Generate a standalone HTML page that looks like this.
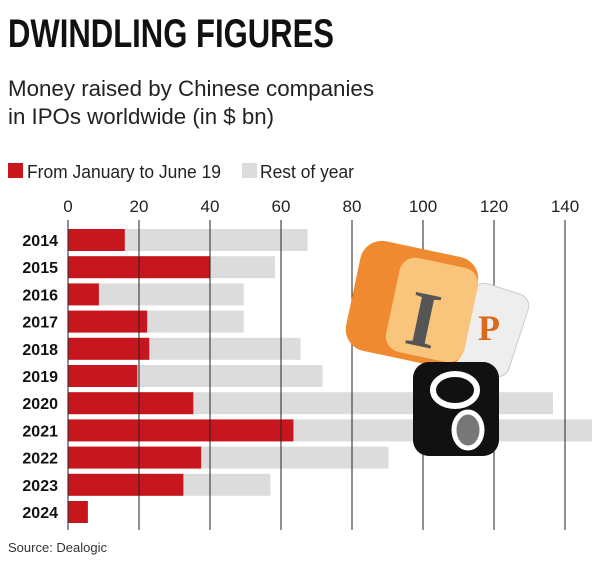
<!DOCTYPE html>
<html><head><meta charset="utf-8"><style>
body{margin:0;background:#fff;width:609px;height:570px;overflow:hidden;font-family:"Liberation Sans",sans-serif}
svg{position:absolute;left:0;top:0}
</style></head><body>
<svg width="609" height="570">
<text x="8" y="47" font-size="40" font-weight="bold" fill="#111" textLength="326" lengthAdjust="spacingAndGlyphs">DWINDLING FIGURES</text>
<text x="8" y="96" font-size="22" fill="#222" textLength="366" lengthAdjust="spacingAndGlyphs">Money raised by Chinese companies</text>
<text x="8" y="124" font-size="22" fill="#222" textLength="266" lengthAdjust="spacingAndGlyphs">in IPOs worldwide (in $ bn)</text>
<rect x="8" y="163" width="15" height="15" fill="#c8161e"/>
<text x="27" y="178" font-size="18" fill="#222" textLength="194" lengthAdjust="spacingAndGlyphs">From January to June 19</text>
<rect x="242" y="163" width="15" height="15" fill="#dcdcdc"/>
<text x="260" y="178" font-size="18" fill="#222" textLength="94" lengthAdjust="spacingAndGlyphs">Rest of year</text>
<g id="ticks"></g><g id="bars"></g><g id="grid"></g>
<g>
<rect x="462" y="287" width="58" height="86" rx="12" fill="#eeeeee" stroke="#ccc" transform="rotate(18 491 330)"/>
<text x="478" y="340" font-size="36" font-family="Liberation Serif" fill="#d86a20" font-weight="bold">P</text>
<rect x="352" y="248" width="120" height="112" rx="22" fill="#f08a30" transform="rotate(12 412 304)"/>
<rect x="392" y="262" width="80" height="96" rx="16" fill="#f9c47c" transform="rotate(12 432 310)"/>
<text x="410" y="348" font-size="80" font-family="Liberation Serif" fill="#555" font-weight="bold" transform="rotate(12 432 310)">I</text>
<rect x="413" y="362" width="86" height="94" rx="16" fill="#111"/>
<ellipse cx="455" cy="390" rx="22" ry="16" fill="none" stroke="#fff" stroke-width="6"/>
<ellipse cx="468" cy="430" rx="14" ry="18" fill="#777" stroke="#fff" stroke-width="5"/>
</g>
<text x="8" y="552" font-size="13" fill="#333">Source: Dealogic</text>
</svg>
<script>
const years=['2014','2015','2016','2017','2018','2019','2020','2021','2022','2023','2024'];
const firstHalf=[16,40,8.7,22.3,22.9,19.5,35.3,63.5,37.5,32.5,5.6];
const fullYear=[67.5,58.3,49.5,49.5,65.5,71.7,136.6,148,90.3,57,5.6];
const tickVals=[0,20,40,60,80,100,120,140];
const NS='http://www.w3.org/2000/svg';
const x=v=>68+v*3.55, yc=i=>240+i*27.2;
function mk(t,a,p){const e=document.createElementNS(NS,t);for(const k in a)e.setAttribute(k,a[k]);document.getElementById(p).appendChild(e);return e;}
tickVals.forEach(v=>{
 const t=mk('text',{x:x(v),y:212,'font-size':17,fill:'#222','text-anchor':'middle'},'ticks');t.textContent=v;
 
 
 const l=mk('line',{x1:x(v),x2:x(v),y1:220,y2:530,stroke:'#222','stroke-width':1},'grid');
 
 
});
years.forEach((yr,i)=>{
 const w=Math.min(fullYear[i],148);
 const r=mk('rect',{x:x(0),y:yc(i)-11,width:Math.min(x(w),592)-x(0),height:22,fill:'#dcdcdc'},'bars');
 
 
 const b=mk('rect',{x:x(0),y:yc(i)-11,width:x(firstHalf[i])-x(0),height:22,fill:'#c8161e'},'bars');
 
 
 const t=mk('text',{x:58,y:yc(i)+6,'font-size':16,'font-weight':'bold',fill:'#111','text-anchor':'end'},'bars');t.textContent=yr;
 
 
});
</script>
</body></html>
